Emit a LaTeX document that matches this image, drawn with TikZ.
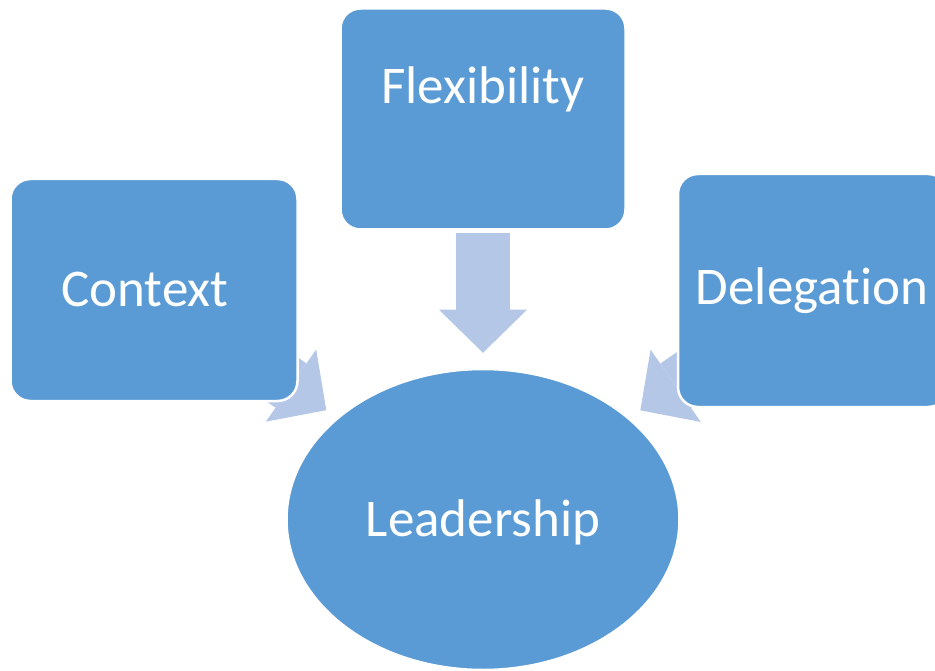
\documentclass[tikz,border=0pt]{standalone}
\usepackage{fontspec}
\setmainfont{Carlito}[Ligatures=NoCommon]
\usetikzlibrary{shapes.geometric,arrows.meta,backgrounds}

\definecolor{boxblue}{HTML}{5B9BD5}
\definecolor{arrowblue}{HTML}{B4C7E7}
\tikzset{
	box/.style={rectangle,rounded corners=20pt,fill=boxblue,draw=white,line width=2.5pt,inner sep=0pt},
	lbl/.style={text=white,font=\fontsize{53}{61}\selectfont,text height=34pt,text depth=0pt},
	flow/.style={color=arrowblue,line width=54pt,-{Triangle[width=88pt,length=43pt,line width=0pt]}}
}

\begin{document}
\begin{tikzpicture}[x=1pt,y=-1pt]
			\useasboundingbox (0,0) rectangle (935,671);
			\draw (154,290) node [box,minimum width=287pt,minimum height=222pt] (context) {};
			\draw (145,306) node [lbl,anchor=base] (contextlabel) {Context};
			\draw (483,119) node [box,minimum width=285pt,minimum height=221pt] (flex) {};
			\draw (483,104) node [lbl,anchor=base] (flexlabel) {Flexibility};
			\draw (813,290.5) node [box,minimum width=270pt,minimum height=233pt] (delegation) {};
			\draw (812,305) node [lbl,anchor=base] (delegationlabel) {Delegation};
			\draw (483,519.5) node [ellipse,fill=boxblue,draw=white,line width=2.5pt,inner sep=0pt,minimum width=393pt,minimum height=301pt,lbl] (leader) {Leadership};
			\begin{scope}[on background layer]
			\path[flow]
				(flex) edge [shorten <=2pt,shorten >=15pt] (leader)
				(context.center) edge [shorten >=12.7pt] (leader)
				(delegation.center) edge [shorten >=13pt] (leader);
			\end{scope}
		\end{tikzpicture}
\end{document}
